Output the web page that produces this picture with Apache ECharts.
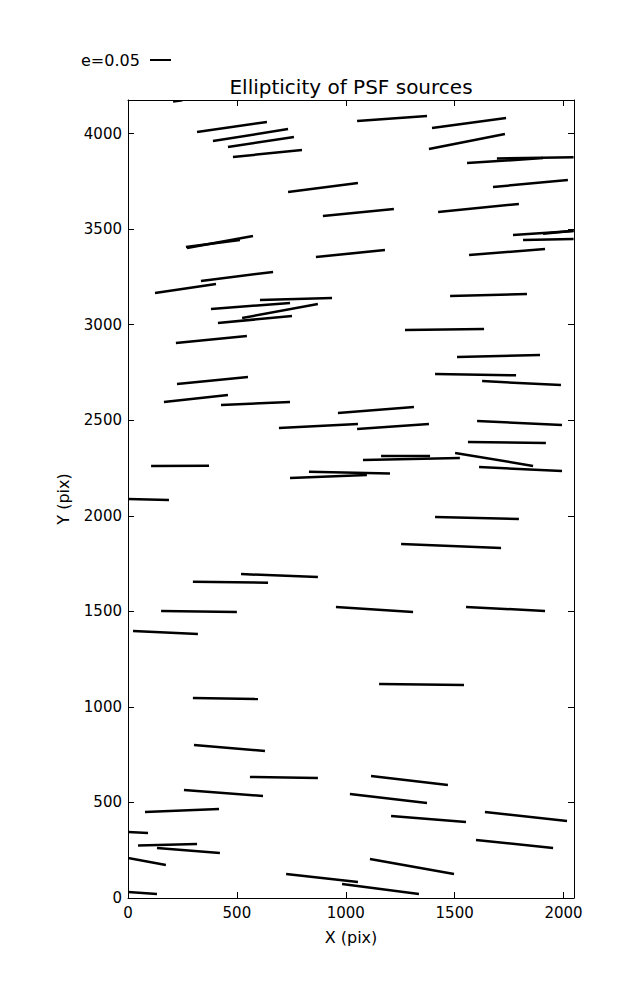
<!DOCTYPE html>
<html>
<head>
<meta charset="utf-8">
<script src="https://cdn.jsdelivr.net/npm/echarts@6/dist/echarts.min.js"></script>
<style>html,body{margin:0;padding:0;background:#fff}#c{width:637px;height:1000px}</style>
</head>
<body>
<div id="c"></div>
<script>
// Whisker start/end points in data units (pix)
const x1s = [207, 317, 390, 459, 482, 1052, 735, 895, 863, 1396, 1382, 1557, 1694, 1676, 1424, 1768, 1906, 1814, 1566, 1479, 271, 266, 335, 124, 606, 381, 524, 413, 220, 1272, 1511, 1410, 1626, 225, 165, 427, 964, 693, 1052, 1603, 1561, 1502, 1612, 1079, 1162, 831, 744, 106, 0, 519, 298, 152, 23, 298, 955, 1254, 1410, 1552, 1153, 303, 560, 257, 78, 0, 46, 133, 0, 0, 1116, 1019, 1208, 1111, 726, 983, 1639, 1598];
const y1s = [4168, 4008, 3961, 3930, 3878, 4066, 3694, 3569, 3354, 4029, 3920, 3846, 3870, 3721, 3590, 3470, 3476, 3443, 3365, 3150, 3401, 3407, 3229, 3166, 3129, 3082, 3035, 3009, 2904, 2972, 2831, 2742, 2705, 2690, 2596, 2580, 2538, 2459, 2454, 2496, 2386, 2329, 2255, 2292, 2313, 2231, 2198, 2261, 2088, 1695, 1655, 1502, 1397, 1047, 1523, 1852, 1994, 1523, 1120, 801, 633, 565, 450, 345, 275, 262, 209, 31, 638, 544, 429, 204, 126, 73, 450, 303];
const x2s = [250, 638, 735, 762, 799, 1373, 1056, 1221, 1180, 1736, 1731, 1906, 2046, 2020, 1795, 2046, 2046, 2046, 1915, 1832, 574, 514, 666, 404, 937, 744, 872, 753, 546, 1635, 1892, 1782, 1988, 551, 459, 744, 1313, 1056, 1382, 1993, 1919, 1860, 1993, 1524, 1387, 1203, 1097, 372, 188, 872, 643, 500, 321, 597, 1309, 1713, 1795, 1915, 1543, 629, 872, 620, 418, 92, 317, 422, 174, 133, 1469, 1373, 1552, 1497, 1056, 1336, 2016, 1952];
const y2s = [4174, 4061, 4024, 3982, 3914, 4092, 3742, 3605, 3391, 4082, 3998, 3872, 3876, 3757, 3632, 3490, 3492, 3448, 3396, 3161, 3464, 3443, 3276, 3213, 3140, 3114, 3108, 3046, 2941, 2978, 2842, 2735, 2684, 2726, 2632, 2596, 2569, 2480, 2480, 2475, 2381, 2261, 2234, 2302, 2313, 2222, 2214, 2262, 2083, 1680, 1650, 1497, 1381, 1041, 1497, 1832, 1983, 1502, 1115, 769, 628, 534, 466, 340, 283, 236, 173, 21, 591, 497, 398, 126, 84, 21, 403, 262];

const xTicks = [0, 500, 1000, 1500, 2000];
const yTicks = [0, 500, 1000, 1500, 2000, 2500, 3000, 3500, 4000];
const xMax = 2048, yMax = 4176;
const titleText = 'Ellipticity of PSF sources';
const keyLabel = 'e=0.05';

const segs = x1s.map((v, i) => [v, y1s[i], x2s[i], y2s[i]]);
const FONT = 'DejaVu Sans';

const chart = echarts.init(document.getElementById('c'), null, {renderer: 'svg'});
const axisCommon = {
  type: 'value',
  interval: 500,
  axisLine: {show: true, onZero: false, lineStyle: {color: '#000', width: 1}},
  axisTick: {show: true, inside: true, length: 6, lineStyle: {color: '#000', width: 1}},
  splitLine: {show: false},
  axisLabel: {color: '#000', fontFamily: FONT, fontSize: 15, showMaxLabel: false,
    formatter: v => (v % 500 === 0 ? String(v) : '')}
};
chart.setOption({
  backgroundColor: '#fff',
  animation: false,
  grid: {left: 128, right: 63, top: 100, bottom: 102},
  xAxis: [
    Object.assign({}, axisCommon, {min: 0, max: xMax, position: 'bottom',
      name: 'X (pix)', nameLocation: 'middle', nameGap: 31,
      nameTextStyle: {color: '#000', fontFamily: FONT, fontSize: 16},
      axisLabel: Object.assign({}, axisCommon.axisLabel, {margin: 7})}),
    Object.assign({}, axisCommon, {min: 0, max: xMax, position: 'top',
      axisLabel: {show: false}})
  ],
  yAxis: [
    Object.assign({}, axisCommon, {min: 0, max: yMax, position: 'left',
      name: 'Y (pix)', nameLocation: 'middle', nameGap: 57, nameRotate: 90,
      nameTextStyle: {color: '#000', fontFamily: FONT, fontSize: 16},
      axisLabel: Object.assign({}, axisCommon.axisLabel, {margin: 6})}),
    Object.assign({}, axisCommon, {min: 0, max: yMax, position: 'right',
      axisLabel: {show: false}})
  ],
  graphic: [
    {type: 'text', x: 351, y: 87, style: {text: titleText, fill: '#000',
      font: '20px "DejaVu Sans"', textAlign: 'center', textVerticalAlign: 'middle'}, z: 10},
    {type: 'text', x: 81, y: 60, style: {text: keyLabel, fill: '#000',
      font: '16px "DejaVu Sans"', textAlign: 'left', textVerticalAlign: 'middle'}},
    {type: 'line', shape: {x1: 150, y1: 60, x2: 171, y2: 60},
      style: {stroke: '#000', lineWidth: 2}}
  ],
  series: [{
    type: 'custom',
    coordinateSystem: 'cartesian2d',
    clip: true,
    data: segs,
    encode: {x: [0, 2], y: [1, 3]},
    renderItem: (params, api) => {
      const p1 = api.coord([api.value(0), api.value(1)]);
      const p2 = api.coord([api.value(2), api.value(3)]);
      return {type: 'line', shape: {x1: p1[0], y1: p1[1], x2: p2[0], y2: p2[1]},
        style: {stroke: '#000', lineWidth: 2.5, lineCap: 'butt'}};
    }
  }]
});
</script>
</body>
</html>
